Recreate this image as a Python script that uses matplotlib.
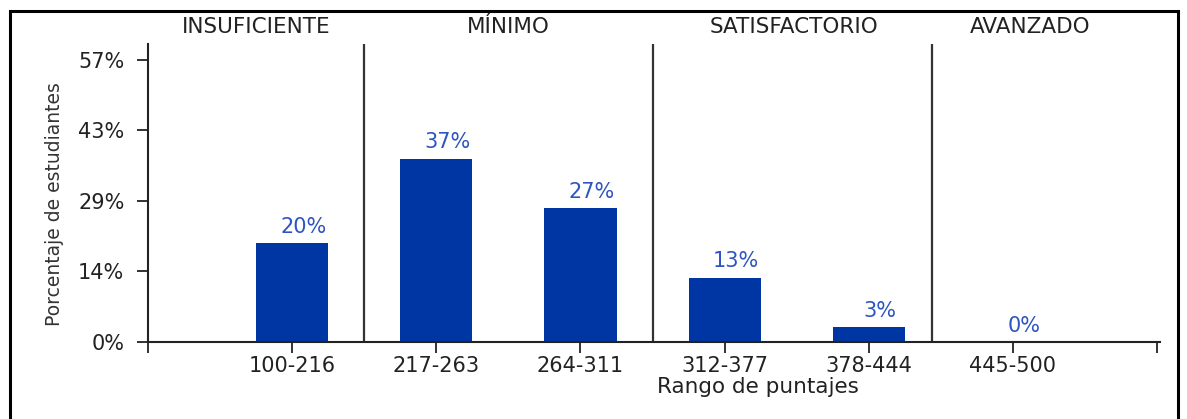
import matplotlib
matplotlib.use("Agg")
import matplotlib.pyplot as plt
from matplotlib.patches import Rectangle

# data
rangos = ["100-216", "217-263", "264-311", "312-377", "378-444", "445-500"]
porcentajes = [20, 37, 27, 13, 3, 0]
niveles = ["INSUFICIENTE", "MÍNIMO", "SATISFACTORIO", "AVANZADO"]
ytick_vals = [0, 14.25, 28.5, 42.75, 57]
ytick_labels = ["0%", "14%", "29%", "43%", "57%"]

bar_color = "#0035a4"
label_color = "#2d55c0"
text_color = "#222222"

plt.rcParams["font.family"] = ["DejaVu Sans"]

fig = plt.figure(figsize=(11.87, 4.19), dpi=100)
ax = fig.add_axes([148 / 1187, 1 - 342 / 419, (1160 - 148) / 1187, (342 - 44) / 419])

pos = list(range(1, len(rangos) + 1))
ax.bar(pos, porcentajes, width=0.5, color=bar_color, zorder=2)
for x, v in zip(pos, porcentajes):
    ax.text(x + 0.08, v + 1.3, f"{v}%", ha="center", va="bottom",
            color=label_color, fontsize=15)

# level separators
for xs in [1.5, 3.5, 5.44]:
    ax.axvline(xs, color="#333333", lw=1.6, zorder=1)

# level titles
for xl, name in zip([0.75, 2.5, 4.48, 6.12], niveles):
    ax.text(xl, 1.058, name, transform=ax.get_xaxis_transform(), ha="center",
            va="center", fontsize=15.5, color=text_color)

ax.set_xlim(0, 7.02)
ax.set_ylim(0, 60.2)
ax.set_xticks(range(0, 8))
ax.set_xticklabels([""] + rangos + [""], fontsize=15, color=text_color)
ax.set_yticks(ytick_vals)
ax.set_yticklabels(ytick_labels, fontsize=15, color=text_color)
ax.tick_params(axis="both", direction="out", length=8, width=1.3, color="#222222")
ax.tick_params(axis="y", pad=9)
ax.tick_params(axis="x", pad=2)

for side in ["top", "right"]:
    ax.spines[side].set_visible(False)
for side in ["left", "bottom"]:
    ax.spines[side].set_linewidth(1.5)
    ax.spines[side].set_color("#222222")

ax.set_ylabel("Porcentaje de estudiantes", fontsize=13.5, color="#333333")
ax.yaxis.set_label_coords(-0.083, 0.463)
ax.text(4.23, -0.118, "Rango de puntajes", transform=ax.get_xaxis_transform(),
        ha="center", va="top", fontsize=15.5, color=text_color)

# outer frame
fig.patches.append(Rectangle((10 / 1187, -0.2), (1178 - 10) / 1187, 1.2 - 11 / 419,
                             transform=fig.transFigure, fill=False,
                             edgecolor="black", lw=2.2))

fig.savefig("out.png", dpi=100)
